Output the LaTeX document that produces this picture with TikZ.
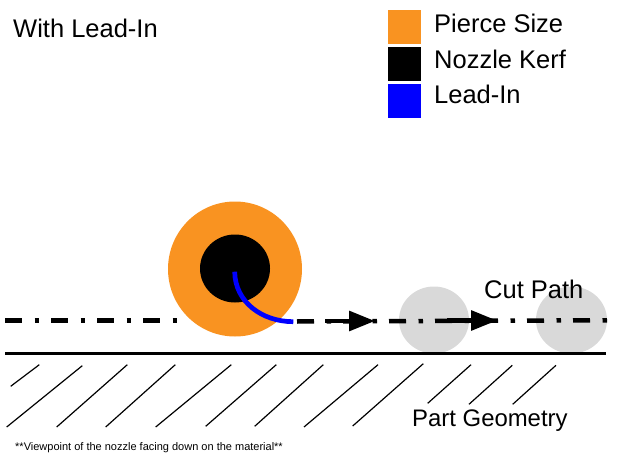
\documentclass[tikz,border=0pt]{standalone}
\usepackage{fontspec}
\setmainfont{Liberation Sans}
\usetikzlibrary{arrows.meta}
\definecolor{pierce}{HTML}{F99321}
\definecolor{ghost}{HTML}{D9D9D9}
\definecolor{leadblue}{HTML}{0000FF}
\tikzset{
  px/.style={x=1pt,y=-1pt},
  label24/.style={font=\fontsize{25.5}{28}\selectfont,inner sep=0pt,anchor=base west,text=black},
  labelpart/.style={font=\fontsize{23.9}{28}\selectfont,inner sep=0pt,anchor=base west,text=black},
  note/.style={font=\fontsize{11}{12}\selectfont,inner sep=0pt,anchor=base west,text=black},
  hatchline/.style={line width=1.2pt,black},
  centerline/.style={line width=4.5pt,black,dash pattern=on 17pt off 12.5pt on 4.5pt off 12pt},
  flowarrow/.style={line width=4.5pt,black,-{Triangle[length=26pt,width=19.5pt]}},
  swatch/.style={draw=none,minimum width=33.3pt,minimum height=34.3pt,inner sep=0pt,anchor=north west}
}
\begin{document}
\begin{tikzpicture}[px]
\useasboundingbox (0,0) rectangle (624,468);
% ghost nozzles
\fill[ghost] (434,320) ellipse [x radius=35,y radius=33.5];
\fill[ghost] (571.5,320) ellipse [x radius=35.5,y radius=33.5];
% pierce and kerf
\fill[pierce] (235,269) ellipse [x radius=67,y radius=67.5];
\fill[black] (235,268.5) ellipse [x radius=35,y radius=34];
% coordinates
\coordinate (c1a) at (5,320.3);
\coordinate (c1b) at (177,320.3);
\coordinate (c2a) at (297,321.5);
\coordinate (c2b) at (607,320.3);
\coordinate (ar1a) at (325,321);
\coordinate (ar1b) at (375,321);
\coordinate (ar2a) at (447,320.5);
\coordinate (ar2b) at (497,320.5);
\coordinate (baseA) at (5,353.3);
\coordinate (baseB) at (606,353.3);
\coordinate (leadS) at (234.7,271.7);
\coordinate (leadE) at (293.3,321.7);
% center lines
\draw[centerline] (c1a) -- (c1b);
\draw[centerline] (c2a) -- (c2b);
\draw[flowarrow] (ar1a) -- (ar1b);
\draw[flowarrow] (ar2a) -- (ar2b);
% lead-in
\draw[leadblue,line width=4.7pt] (leadS) .. controls (235,302) and (262,321.7) .. (leadE);
% surface
\draw[line width=3pt] (baseA) -- (baseB);
% hatching
\foreach \ax/\ay/\bx/\by in {10.7/386.3/39.3/364.7,6.7/427/82.3/365.7,56.7/427/127.3/364.7,105.7/427/175.3/364.7,155.7/427/231.3/364.7,205.7/426.3/276.3/364.7,254.7/426.3/323.3/364.7,304/427/378/364.7,352.7/426/423.3/363.7,427.7/403.3/471/364.7,469/404.3/512.3/365.3,512.7/404.3/556/365.3}
  \draw[hatchline] (\ax,\ay) -- (\bx,\by);
% legend
\node[swatch,fill=pierce] (s1) at (387.7,9.7) {};
\node[swatch,fill=black] (s2) at (387.7,46.7) {};
\node[swatch,fill=leadblue] (s3) at (387.7,83.7) {};
\node[label24] (t1) at (434,33) {Pierce Size};
\node[label24] (t2) at (434,68.5) {Nozzle Kerf};
\node[label24] (t3) at (434,104) {Lead-In};
\node[label24] (title) at (13,37.3) {With Lead-In};
\node[label24] (cut) at (484,298.5) {Cut Path};
\node[labelpart] (part) at (412,426) {Part Geometry};
\node[note] (foot) at (15,450) {**Viewpoint of the nozzle facing down on the material**};
\end{tikzpicture}
\end{document}
